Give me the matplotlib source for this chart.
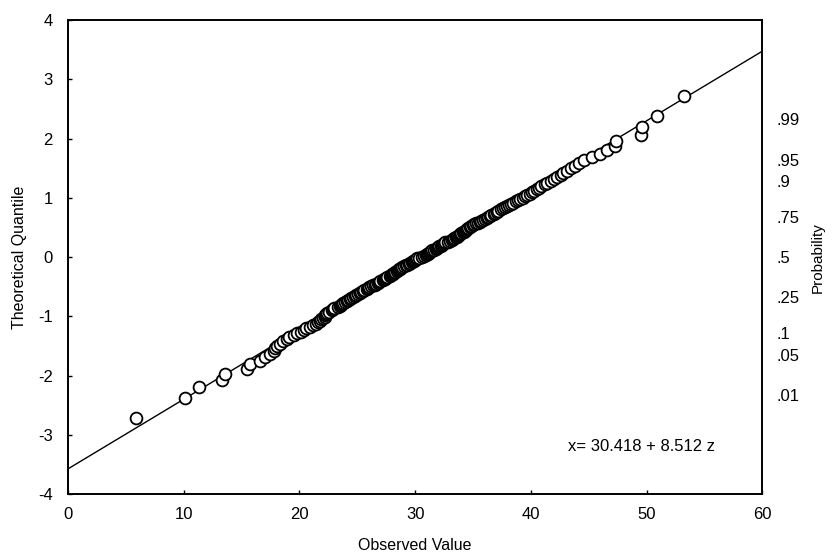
"""Normal probability plot: observed values vs theoretical normal quantiles."""
from statistics import NormalDist
import numpy as np
import matplotlib
matplotlib.use("Agg")
import matplotlib.pyplot as plt

plt.rcParams["font.family"] = ["Liberation Sans", "DejaVu Sans"]
plt.rcParams["axes.unicode_minus"] = False

observed = [
    5.9, 10.1, 11.3, 13.3, 13.6, 15.5, 15.7, 16.6, 17.0, 17.5,
    17.8, 17.9, 18.1, 18.3, 18.6, 18.9, 19.1, 19.5, 19.8, 20.1,
    20.4, 20.6, 20.9, 21.2, 21.4, 21.6, 21.8, 21.9, 22.0, 22.2,
    22.2, 22.3, 22.4, 22.6, 22.8, 22.9, 23.0, 23.3, 23.5, 23.6,
    23.7, 23.8, 23.9, 24.1, 24.2, 24.4, 24.5, 24.6, 24.8, 24.9,
    25.1, 25.2, 25.3, 25.5, 25.6, 25.8, 25.9, 26.0, 26.2, 26.4,
    26.5, 26.6, 26.8, 26.9, 27.0, 27.2, 27.3, 27.4, 27.5, 27.6,
    27.8, 27.9, 28.0, 28.1, 28.2, 28.3, 28.4, 28.5, 28.6, 28.7,
    28.8, 28.9, 29.0, 29.2, 29.3, 29.5, 29.6, 29.7, 29.8, 29.9,
    30.0, 30.1, 30.2, 30.3, 30.6, 30.8, 30.9, 31.0, 31.1, 31.2,
    31.3, 31.4, 31.5, 31.6, 31.8, 31.9, 32.0, 32.1, 32.2, 32.3,
    32.4, 32.5, 32.6, 32.8, 33.0, 33.2, 33.3, 33.4, 33.5, 33.6,
    33.7, 33.8, 33.9, 34.0, 34.1, 34.2, 34.3, 34.4, 34.5, 34.6,
    34.7, 34.8, 35.0, 35.1, 35.3, 35.4, 35.6, 35.7, 35.9, 36.0,
    36.2, 36.3, 36.5, 36.6, 36.8, 36.9, 37.1, 37.2, 37.4, 37.6,
    37.8, 37.9, 38.1, 38.3, 38.5, 38.7, 38.9, 39.1, 39.3, 39.5,
    39.7, 39.9, 40.1, 40.3, 40.5, 40.7, 40.9, 41.2, 41.4, 41.7,
    42.0, 42.3, 42.6, 42.8, 43.1, 43.5, 43.8, 44.2, 44.6, 45.3,
    46.0, 46.6, 47.3, 47.4, 49.5, 49.6, 50.9, 53.2,
]
fit_mean = 30.418
fit_sd = 8.512
prob_labels = [".99", ".95", ".9", ".75", ".5", ".25", ".1", ".05", ".01"]
prob_values = [0.99, 0.95, 0.9, 0.75, 0.5, 0.25, 0.1, 0.05, 0.01]
x_ticks = [0, 10, 20, 30, 40, 50, 60]
y_ticks = [-4, -3, -2, -1, 0, 1, 2, 3, 4]

nd = NormalDist()
n = len(observed)
# Blom plotting positions
theo = [nd.inv_cdf((i - 0.375) / (n + 0.25)) for i in range(1, n + 1)]

fig = plt.figure(figsize=(8.34, 5.59), dpi=100)
ax = fig.add_axes([0.0815, 0.116, 0.8325, 0.848])

xl = np.array([0, 60])
ax.plot(xl, (xl - fit_mean) / fit_sd, color="black", lw=1.0, zorder=2)
ax.plot(observed, theo, "o", ms=8.5, mfc="white", mec="black", mew=1.3, zorder=3)

ax.set_xlim(0, 60)
ax.set_ylim(-4, 4)
ax.set_xticks(x_ticks)
ax.set_yticks(y_ticks)
ax.tick_params(direction="in", length=3, width=1, labelsize=12, top=False, right=False)
ax.tick_params(axis="y", pad=11)
ax.tick_params(axis="x", pad=9)
for s in ax.spines.values():
    s.set_linewidth(1.4)

ax.set_xlabel("Observed Value", fontsize=11.5, labelpad=12)
ax.set_ylabel("Theoretical Quantile", fontsize=11.5, labelpad=8)

ax.text(43.2, -3.2, f"x= {fit_mean:.3f} + {fit_sd:.3f} z", fontsize=12, va="center")

ax2 = ax.twinx()
ax2.set_ylim(-4, 4)
ax2.set_yticks([nd.inv_cdf(p) for p in prob_values])
ax2.set_yticklabels(prob_labels)
ax2.tick_params(length=0, labelsize=12, pad=10)
for s in ax2.spines.values():
    s.set_visible(False)
ax2.set_ylabel("Probability", fontsize=11, labelpad=8)

fig.savefig("out.png", dpi=100)
